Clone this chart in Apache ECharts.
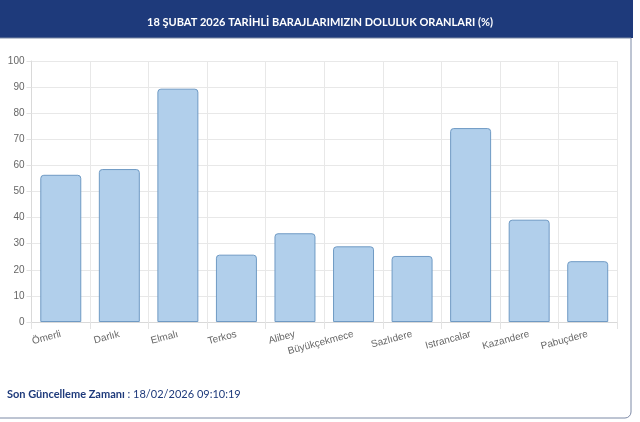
<!DOCTYPE html>
<html>
<head>
<meta charset="utf-8">
<script src="https://cdn.jsdelivr.net/npm/echarts@6/dist/echarts.min.js"></script>
<style>
html,body{margin:0;padding:0;background:#fff;}
#c{width:640px;height:422px;}
</style>
</head>
<body>
<div id="c"></div>
<script>
const categories = ['Ömerli','Darlık','Elmalı','Terkos','Alibey','Büyükçekmece','Sazlıdere','Istrancalar','Kazandere','Pabuçdere'];
const values = [56.4, 58.6, 89.4, 25.8, 34.0, 29.0, 25.3, 74.3, 39.2, 23.3];
const titleText = '18 ŞUBAT 2026 TARİHLİ BARAJLARIMIZIN DOLULUK ORANLARI (%)';
const footerLabel = 'Son Güncelleme Zamanı';
const footerValue = ' : 18/02/2026 09:10:19';

const chart = echarts.init(document.getElementById('c'), null, {renderer:'canvas'});
chart.setOption({
  animation:false,
  backgroundColor:'#fff',
  title:{
    text:titleText,
    left:'center', top:12,
    textStyle:{color:'#fff', fontSize:11, fontWeight:'bold', fontFamily:'Lato'}
  },
  graphic:[
    {type:'rect', z:-1, shape:{x:0,y:0,width:633,height:38}, style:{fill:'#1e3a7b'}},
    {type:'rect', z:-1, shape:{x:-10,y:38,width:641,height:380,r:[0,0,6,0]}, style:{fill:'none', stroke:'#7d8aa6', lineWidth:1}},
    {type:'text', left:7, top:389, style:{
      text:'{b|'+footerLabel+'}{n|'+footerValue+'}',
      rich:{
        b:{fontFamily:'Lato', fontWeight:'bold', fontSize:11, fill:'#1e3a7b'},
        n:{fontFamily:'Lato', fontSize:11, fill:'#1e3a7b'}
      }
    }}
  ],
  grid:{left:31.5, right:23, top:61, bottom:100, containLabel:false},
  xAxis:{
    type:'category',
    data:categories,
    boundaryGap:true,
    axisLine:{show:true, lineStyle:{color:'#d9d9d9'}},
    axisTick:{show:true, length:7, lineStyle:{color:'#e3e3e3'}},
    splitLine:{show:true, lineStyle:{color:'#e8e8e8'}},
    axisLabel:{rotate:15, interval:0, color:'#666', fontSize:10, fontFamily:'Liberation Sans', margin:12}
  },
  yAxis:{
    type:'value', min:0, max:100, interval:10,
    axisLine:{show:true, lineStyle:{color:'#d9d9d9'}},
    axisTick:{show:true, length:5, lineStyle:{color:'#e3e3e3'}},
    splitLine:{show:true, lineStyle:{color:'#e8e8e8'}},
    axisLabel:{color:'#666', fontSize:10, fontFamily:'Liberation Sans', margin:7}
  },
  series:[{
    type:'bar',
    data:values,
    barCategoryGap:'30%',
    itemStyle:{color:'#b1cfeb', borderColor:'#6f9ac4', borderWidth:1, borderRadius:[3,3,0,0]}
  }]
});
</script>
</body>
</html>
